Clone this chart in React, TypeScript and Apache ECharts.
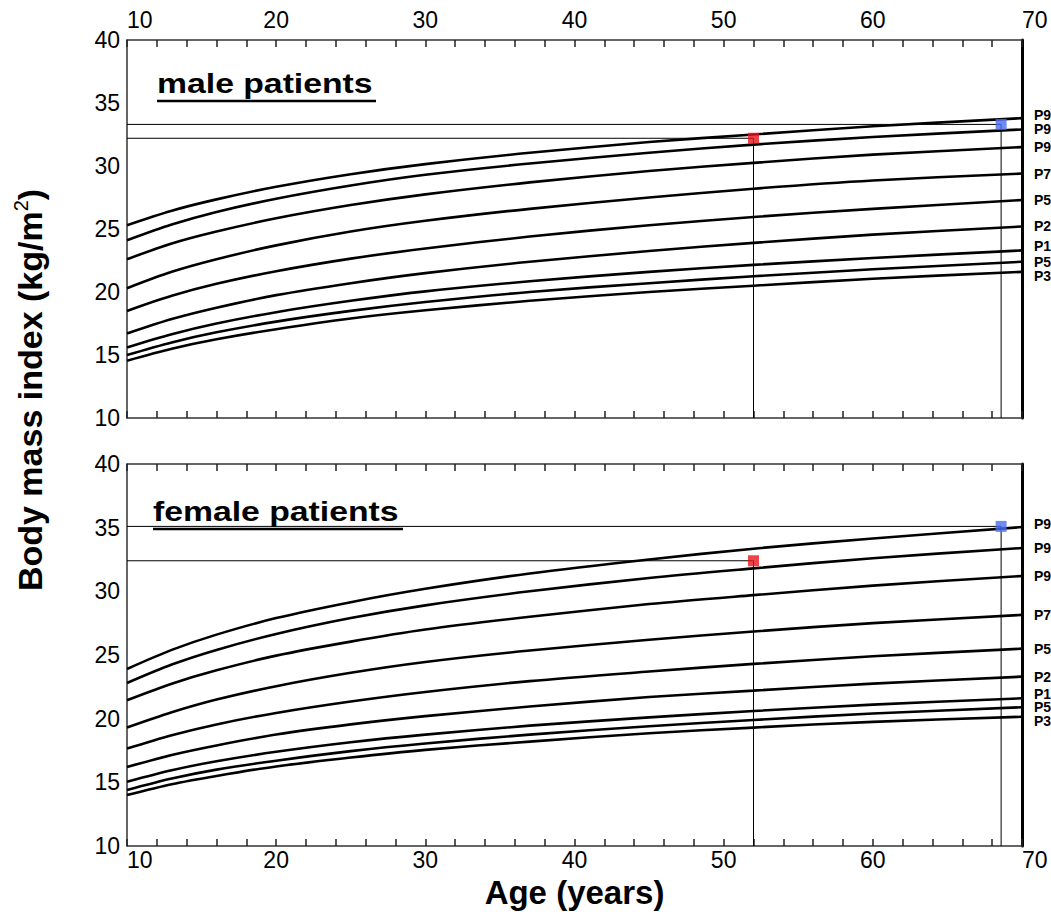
import React, { useEffect, useRef } from 'react';
import * as echarts from 'echarts';

// Ages at which the percentile curves are sampled
const AGES = [10, 13, 16, 20, 25, 30, 37, 45, 52, 60, 70];
const PCT_LABELS = ['P97', 'P95', 'P90', 'P75', 'P50', 'P25', 'P10', 'P5', 'P3'];

// Male BMI percentile curves (kg/m2), one value per entry of AGES
const MALE_P97 = [25.3, 26.45, 27.35, 28.35, 29.35, 30.15, 31.05, 31.9, 32.5, 33.15, 33.8];
const MALE_P95 = [24.1, 25.35, 26.35, 27.4, 28.45, 29.3, 30.2, 31.05, 31.7, 32.3, 32.9];
const MALE_P90 = [22.6, 23.85, 24.8, 25.85, 26.9, 27.75, 28.7, 29.6, 30.25, 30.9, 31.5];
const MALE_P75 = [20.3, 21.6, 22.6, 23.7, 24.8, 25.65, 26.6, 27.5, 28.2, 28.85, 29.4];
const MALE_P50 = [18.5, 19.7, 20.65, 21.65, 22.65, 23.45, 24.4, 25.3, 25.95, 26.6, 27.3];
const MALE_P25 = [16.7, 17.85, 18.75, 19.75, 20.7, 21.5, 22.4, 23.25, 23.9, 24.55, 25.2];
const MALE_P10 = [15.6, 16.65, 17.5, 18.4, 19.3, 20.05, 20.85, 21.6, 22.15, 22.7, 23.3];
const MALE_P5 = [15.0, 16.0, 16.8, 17.65, 18.5, 19.2, 20.0, 20.7, 21.25, 21.8, 22.4];
const MALE_P3 = [14.55, 15.5, 16.25, 17.05, 17.9, 18.55, 19.3, 20.0, 20.5, 21.05, 21.6];

// Female BMI percentile curves (kg/m2)
const FEMALE_P97 = [23.9, 25.4, 26.6, 27.9, 29.15, 30.2, 31.4, 32.5, 33.35, 34.15, 35.05];
const FEMALE_P95 = [22.8, 24.25, 25.4, 26.65, 27.9, 28.9, 30.0, 31.05, 31.8, 32.6, 33.4];
const FEMALE_P90 = [21.45, 22.75, 23.8, 24.95, 26.05, 27.0, 28.0, 29.0, 29.7, 30.45, 31.2];
const FEMALE_P75 = [19.3, 20.5, 21.5, 22.55, 23.6, 24.45, 25.35, 26.2, 26.85, 27.5, 28.15];
const FEMALE_P50 = [17.65, 18.7, 19.55, 20.45, 21.35, 22.1, 22.95, 23.7, 24.3, 24.9, 25.5];
const FEMALE_P25 = [16.2, 17.15, 17.9, 18.75, 19.55, 20.2, 20.95, 21.7, 22.2, 22.75, 23.3];
const FEMALE_P10 = [15.05, 15.95, 16.65, 17.4, 18.15, 18.75, 19.45, 20.1, 20.6, 21.1, 21.6];
const FEMALE_P5 = [14.4, 15.3, 16.0, 16.7, 17.45, 18.05, 18.75, 19.4, 19.9, 20.4, 20.9];
const FEMALE_P3 = [14.0, 14.85, 15.5, 16.25, 16.95, 17.55, 18.2, 18.85, 19.3, 19.75, 20.15];

const MALE_CURVES = [MALE_P97, MALE_P95, MALE_P90, MALE_P75, MALE_P50, MALE_P25, MALE_P10, MALE_P5, MALE_P3];
const FEMALE_CURVES = [FEMALE_P97, FEMALE_P95, FEMALE_P90, FEMALE_P75, FEMALE_P50, FEMALE_P25, FEMALE_P10, FEMALE_P5, FEMALE_P3];

// Vertical nudges (px) that keep the crowded end labels apart
const LABEL_NUDGE = [-3, 0, 0, 0, 0, 0, -4, 0, 4];

// Individual patients: [age, BMI]
const MALE_PATIENT_RED = [52, 32.2];
const MALE_PATIENT_BLUE = [68.6, 33.3];
const FEMALE_PATIENT_RED = [52, 32.4];
const FEMALE_PATIENT_BLUE = [68.6, 35.1];

const AGE_MIN = 10;
const AGE_MAX = 70;
const BMI_MIN = 10;
const BMI_MAX = 40;

const FONT = '"Liberation Sans", Arial, Helvetica, sans-serif';
const RED = '#e8141c';
const BLUE = '#4a6ef0';

function xAxisBase(gridIndex: number, position: 'top' | 'bottom', showLabels: boolean, margin: number) {
  return {
    type: 'value',
    gridIndex,
    position,
    min: AGE_MIN,
    max: AGE_MAX,
    interval: 10,
    splitLine: { show: false },
    axisLine: { show: true, lineStyle: { color: '#333', width: 1.5 } },
    axisTick: { show: true, inside: true, length: 7, lineStyle: { color: '#222', width: 1.5 } },
    minorTick: { show: true, splitNumber: 5, length: 7, lineStyle: { color: '#222', width: 1.5 } },
    axisLabel: {
      show: showLabels,
      color: '#000',
      fontFamily: FONT,
      fontSize: 23,
      margin,
      alignMinLabel: 'left',
      alignMaxLabel: 'left',
    },
  };
}

function yAxisLeft(gridIndex: number) {
  return {
    type: 'value',
    gridIndex,
    position: 'left',
    min: BMI_MIN,
    max: BMI_MAX,
    interval: 5,
    splitLine: { show: false },
    axisLine: { show: true, lineStyle: { color: '#333', width: 1.5 } },
    axisTick: { show: false },
    axisLabel: { color: '#000', fontFamily: FONT, fontSize: 23, margin: 7 },
  };
}

function yAxisRight(gridIndex: number) {
  return {
    type: 'value',
    gridIndex,
    position: 'right',
    min: BMI_MIN,
    max: BMI_MAX,
    interval: 5,
    splitLine: { show: false },
    axisLine: { show: true, lineStyle: { color: '#000', width: 3 } },
    axisTick: { show: false },
    axisLabel: { show: false },
  };
}

function panelSeries(curves: number[][], red: number[], blue: number[], xAxisIndex: number, yAxisIndex: number) {
  const guide = (p: number[]) => ({
    type: 'line',
    xAxisIndex,
    yAxisIndex,
    data: [[AGE_MIN, p[1]], [p[0], p[1]], [p[0], BMI_MIN]],
    showSymbol: false,
    silent: true,
    lineStyle: { color: '#000', width: 1 },
    z: 1,
  });
  const curveSeries = curves.map((vals, i) => ({
    type: 'line',
    name: PCT_LABELS[i],
    xAxisIndex,
    yAxisIndex,
    data: AGES.map((a, j) => [a, vals[j]]),
    smooth: 0.3,
    showSymbol: false,
    lineStyle: { color: '#000', width: 2.6 },
    endLabel: {
      show: true,
      formatter: PCT_LABELS[i],
      distance: 12,
      offset: [0, LABEL_NUDGE[i]],
      color: '#000',
      fontFamily: FONT,
      fontWeight: 'bold',
      fontSize: 14,
      lineHeight: 11,
    },
    z: 2,
  }));
  const marker = (p: number[], color: string) => ({
    type: 'scatter',
    xAxisIndex,
    yAxisIndex,
    data: [p],
    symbol: 'rect',
    symbolSize: 11,
    itemStyle: { color },
    z: 3,
  });
  return [guide(red), guide(blue), ...curveSeries, marker(red, RED), marker(blue, BLUE)];
}

function buildOption() {
  const titleText = (text: string, x: number, y: number) => ({
    type: 'text',
    x,
    y,
    scaleX: 1.25,
    style: { text, fontFamily: FONT, fontWeight: 'bold', fontSize: 27, fill: '#000', textVerticalAlign: 'bottom' },
  });
  const underline = (x1: number, x2: number, y: number) => ({
    type: 'line',
    shape: { x1, y1: y, x2, y2: y },
    style: { stroke: '#000', lineWidth: 2.5 },
  });
  return {
    animation: false,
    backgroundColor: '#fff',
    grid: [
      { left: 127, top: 40, width: 895, height: 378, outerBoundsMode: 'none', containLabel: false },
      { left: 127, top: 464, width: 895, height: 382, outerBoundsMode: 'none', containLabel: false },
    ],
    xAxis: [
      xAxisBase(0, 'top', true, 9),
      xAxisBase(0, 'bottom', false, 4),
      xAxisBase(1, 'top', false, 4),
      {
        ...xAxisBase(1, 'bottom', true, 2),
        name: 'Age (years)',
        nameLocation: 'middle',
        nameGap: 30,
        nameTextStyle: { color: '#000', fontFamily: FONT, fontWeight: 'bold', fontSize: 33 },
      },
    ],
    yAxis: [yAxisLeft(0), yAxisRight(0), yAxisLeft(1), yAxisRight(1)],
    series: [
      ...panelSeries(MALE_CURVES, MALE_PATIENT_RED, MALE_PATIENT_BLUE, 0, 0),
      ...panelSeries(FEMALE_CURVES, FEMALE_PATIENT_RED, FEMALE_PATIENT_BLUE, 3, 2),
    ],
    graphic: [
      titleText('male patients', 157, 97),
      underline(157, 376, 101),
      titleText('female patients', 153, 525),
      underline(153, 403, 529),
      {
        type: 'text',
        x: 30,
        y: 390,
        rotation: Math.PI / 2,
        style: {
          text: '{a|Body mass index (kg/m}{s|2}{a|)}',
          align: 'center',
          verticalAlign: 'middle',
          rich: {
            a: { fontFamily: FONT, fontWeight: 'bold', fontSize: 34, fill: '#000', lineHeight: 38 },
            s: { fontFamily: FONT, fontSize: 20, fill: '#000', lineHeight: 24, verticalAlign: 'top' },
          },
        },
      },
    ],
  };
}

export default function App() {
  const ref = useRef<HTMLDivElement>(null);
  useEffect(() => {
    document.body.style.margin = '0';
    const chart = echarts.init(ref.current as HTMLDivElement, null, { renderer: 'svg' });
    chart.setOption(buildOption() as any);
    return () => chart.dispose();
  }, []);
  return <div ref={ref} style={{ width: 1051, height: 917 }} />;
}
